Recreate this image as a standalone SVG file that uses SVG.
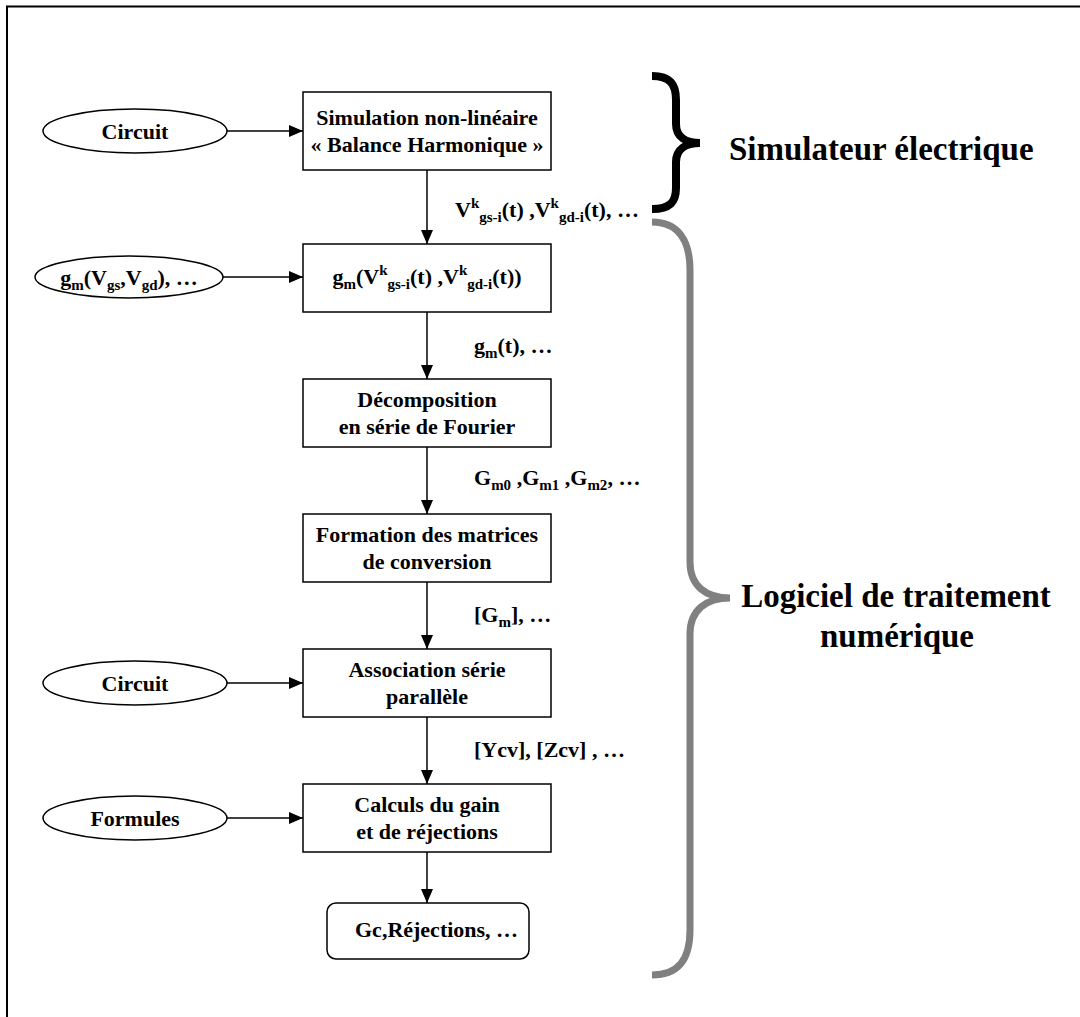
<svg xmlns="http://www.w3.org/2000/svg" width="1080" height="1017" viewBox="0 0 1080 1017">
<defs>
<style>
.box{fill:#fff;stroke:#000;stroke-width:1.5}
.t{font-family:"Liberation Serif","Times New Roman",serif;font-weight:bold;font-size:22px;fill:#000}
.c{text-anchor:middle}
.big{font-family:"Liberation Serif","Times New Roman",serif;font-weight:bold;font-size:33px;fill:#000}
.ln{stroke:#000;stroke-width:1.5;fill:none}
.s{font-size:15px}
</style>
<marker id="ah" viewBox="0 0 14 12" refX="14" refY="6" markerWidth="14" markerHeight="12" markerUnits="userSpaceOnUse" orient="auto">
<path d="M0,0 L14,6 L0,12 z" fill="#000"/>
</marker>
</defs>
<rect width="1080" height="1017" fill="#fff"/>
<path d="M7,1017 L7,6.5 L1080,6.5" fill="none" stroke="#000" stroke-width="2"/>

<g id="connectors">
<line class="ln" x1="227" y1="131" x2="303" y2="131" marker-end="url(#ah)"/>
<line class="ln" x1="223" y1="277" x2="303" y2="277" marker-end="url(#ah)"/>
<line class="ln" x1="227" y1="683" x2="303" y2="683" marker-end="url(#ah)"/>
<line class="ln" x1="227" y1="818" x2="303" y2="818" marker-end="url(#ah)"/>
<line class="ln" x1="427" y1="170" x2="427" y2="244" marker-end="url(#ah)"/>
<line class="ln" x1="427" y1="312" x2="427" y2="379" marker-end="url(#ah)"/>
<line class="ln" x1="427" y1="447" x2="427" y2="514" marker-end="url(#ah)"/>
<line class="ln" x1="427" y1="582" x2="427" y2="649" marker-end="url(#ah)"/>
<line class="ln" x1="427" y1="717" x2="427" y2="784" marker-end="url(#ah)"/>
<line class="ln" x1="427" y1="852" x2="427" y2="903" marker-end="url(#ah)"/>
<text class="t" x="455" y="217">V<tspan class="s" dy="-9">k</tspan><tspan class="s" dy="14">gs-i</tspan><tspan dy="-5">(t) ,V</tspan><tspan class="s" dy="-9">k</tspan><tspan class="s" dy="14">gd-i</tspan><tspan dy="-5">(t), …</tspan></text>
<text class="t" x="474" y="353">g<tspan class="s" dy="5">m</tspan><tspan dy="-5">(t), …</tspan></text>
<text class="t" x="474" y="485">G<tspan class="s" dy="5">m0</tspan><tspan dy="-5"> ,G</tspan><tspan class="s" dy="5">m1</tspan><tspan dy="-5"> ,G</tspan><tspan class="s" dy="5">m2</tspan><tspan dy="-5">, …</tspan></text>
<text class="t" x="474" y="622">[G<tspan class="s" dy="5">m</tspan><tspan dy="-5">], …</tspan></text>
<text class="t" x="474" y="757">[Ycv], [Zcv] , …</text>
</g>

<g id="in1"><ellipse class="box" cx="135" cy="131" rx="92" ry="22"/><text class="t c" x="135" y="139">Circuit</text></g>
<g id="in2"><ellipse class="box" cx="129" cy="277" rx="94" ry="21"/><text class="t c" x="129" y="285">g<tspan class="s" dy="5">m</tspan><tspan dy="-5">(V</tspan><tspan class="s" dy="5">gs</tspan><tspan dy="-5">,V</tspan><tspan class="s" dy="5">gd</tspan><tspan dy="-5">), …</tspan></text></g>
<g id="in3"><ellipse class="box" cx="135" cy="683" rx="92" ry="22"/><text class="t c" x="135" y="691">Circuit</text></g>
<g id="in4"><ellipse class="box" cx="135" cy="818" rx="92" ry="22"/><text class="t c" x="135" y="826">Formules</text></g>

<g id="b1"><rect class="box" x="303" y="92" width="248" height="78"/><text class="t c" x="427" y="125">Simulation non-linéaire</text><text class="t c" x="427" y="152">« Balance Harmonique »</text></g>
<g id="b2"><rect class="box" x="303" y="244" width="248" height="68"/><text class="t c" x="427" y="284">g<tspan class="s" dy="5">m</tspan><tspan dy="-5">(V</tspan><tspan class="s" dy="-9">k</tspan><tspan class="s" dy="14">gs-i</tspan><tspan dy="-5">(t) ,V</tspan><tspan class="s" dy="-9">k</tspan><tspan class="s" dy="14">gd-i</tspan><tspan dy="-5">(t))</tspan></text></g>
<g id="b3"><rect class="box" x="303" y="379" width="248" height="68"/><text class="t c" x="427" y="407">Décomposition</text><text class="t c" x="427" y="434">en série de Fourier</text></g>
<g id="b4"><rect class="box" x="303" y="514" width="248" height="68"/><text class="t c" x="427" y="542">Formation des matrices</text><text class="t c" x="427" y="569">de conversion</text></g>
<g id="b5"><rect class="box" x="303" y="649" width="248" height="68"/><text class="t c" x="427" y="677">Association série</text><text class="t c" x="427" y="704">parallèle</text></g>
<g id="b6"><rect class="box" x="303" y="784" width="248" height="68"/><text class="t c" x="427" y="812">Calculs du gain</text><text class="t c" x="427" y="839">et de réjections</text></g>
<g id="b7"><rect class="box" x="327" y="903" width="202" height="56" rx="9"/><text class="t" x="355" y="937">Gc,Réjections, …</text></g>

<g id="brace1"><path d="M652,76 C670,76 676,84 676,100 L676,124 C676,137 686,143 700,143 C686,143 676,149 676,162 L676,188 C676,202 670,209 652,209" fill="none" stroke="#000" stroke-width="8"/>
<text class="big" x="729" y="160">Simulateur électrique</text></g>
<g id="brace2"><path d="M652,222 C678,222 690,240 690,270 L690,562 C690,586 706,598 730,598 C706,598 690,610 690,634 L690,930 C690,960 678,975 652,975" fill="none" stroke="#808080" stroke-width="7"/>
<text class="big c" x="896" y="607">Logiciel de traitement</text><text class="big c" x="897" y="647">numérique</text></g>
</svg>
